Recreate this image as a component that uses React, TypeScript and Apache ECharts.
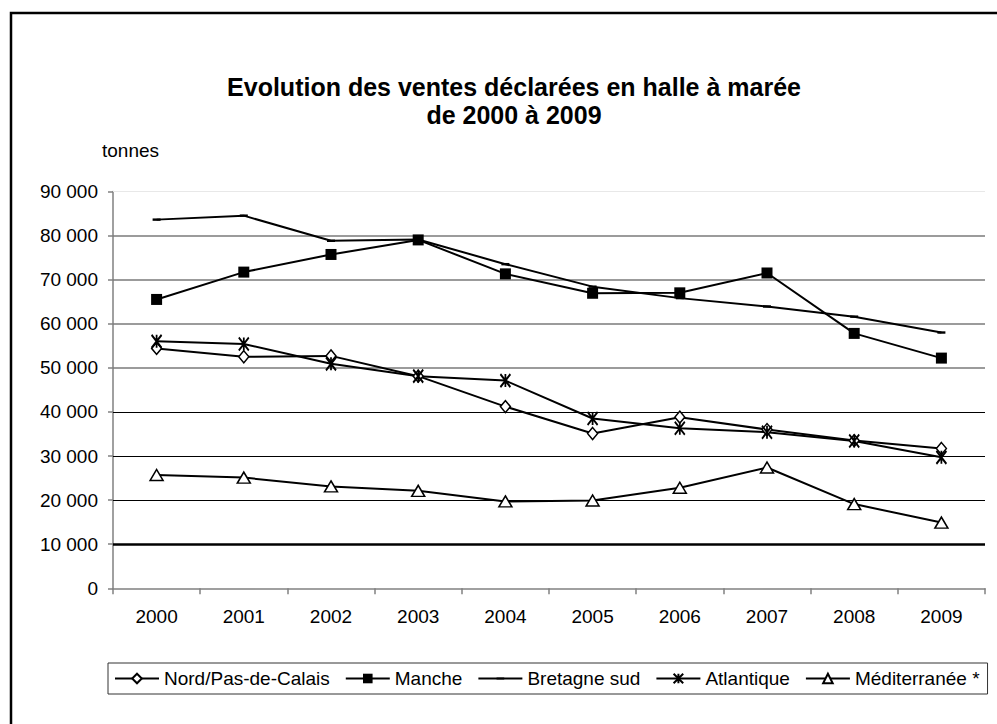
import React, { useEffect, useRef } from "react";
import * as echarts from "echarts";

const years = ["2000", "2001", "2002", "2003", "2004", "2005", "2006", "2007", "2008", "2009"];

const nordPasDeCalais = [54400, 52500, 52700, 48100, 41200, 35100, 38800, 36000, 33500, 31700];
const manche = [65500, 71700, 75700, 79000, 71300, 66900, 67000, 71500, 57800, 52200];
const bretagneSud = [83600, 84500, 78800, 79100, 73500, 68400, 65800, 63900, 61600, 58000];
const atlantique = [56000, 55400, 50900, 48100, 47100, 38500, 36300, 35400, 33400, 29700];
const mediterranee = [25700, 25100, 23100, 22100, 19700, 19900, 22800, 27400, 19100, 14900];

const yTicks = [0, 10000, 20000, 30000, 40000, 50000, 60000, 70000, 80000, 90000];

const FONT = 'Arial, "Liberation Sans", Helvetica, sans-serif';
const ASTERISK = "path://M0,0L10,12M10,0L0,12M5,0L5,12";
// short flat dash inside a square frame, so it keeps its shape when drawn square
const DASH = "path://M0,0M10,10M1,4L9,4L9,6L1,6Z";

function formatThousands(v: number): string {
  return String(v).replace(/\B(?=(\d{3})+(?!\d))/g, " ");
}

// horizontal reference lines: light at the top, grey in the upper band,
// black in the lower band and a heavier rule at 10 000
function gridLineStyle(v: number) {
  if (v === 90000) return { color: "#e8e8e8", width: 1, type: "solid" as const };
  if (v >= 50000) return { color: "#7a7a7a", width: 1.5, type: "solid" as const };
  if (v === 10000) return { color: "#000", width: 2.5, type: "solid" as const };
  return { color: "#000", width: 1, type: "solid" as const };
}

export default function App() {
  const ref = useRef<HTMLDivElement>(null);

  useEffect(() => {
    document.body.style.margin = "0";
    if (!ref.current) return;
    const chart = echarts.init(ref.current, null, { renderer: "svg" });

    const lineStyle = { color: "#000", width: 2 };
    const common = {
      type: "line" as const,
      lineStyle,
      emphasis: { disabled: true },
      silent: true,
      z: 3,
    };

    chart.setOption({
      animation: false,
      backgroundColor: "#fff",
      textStyle: { fontFamily: FONT, color: "#000" },
      grid: { left: 113, right: 12, top: 191.4, bottom: 135.7, containLabel: false },
      graphic: [
        {
          type: "rect",
          shape: { x: 11, y: 13, width: 1200, height: 1000 },
          style: { fill: "none", stroke: "#000", lineWidth: 2.5 },
          silent: true,
        },
        {
          type: "text",
          x: 514,
          y: 101,
          style: {
            text: "Evolution des ventes déclarées en halle à marée\nde 2000 à 2009",
            font: `bold 25px ${FONT}`,
            fill: "#000",
            align: "center",
            verticalAlign: "middle",
            lineHeight: 28,
          },
        },
        {
          type: "text",
          x: 102,
          y: 141,
          style: {
            text: "tonnes",
            font: `19px ${FONT}`,
            fill: "#000",
            align: "left",
            verticalAlign: "top",
          },
        },
      ],
      legend: {
        left: 108,
        top: 663,
        padding: [6, 8, 6, 6],
        itemGap: 15,
        itemWidth: 44,
        itemHeight: 12,
        borderColor: "#333",
        borderWidth: 1,
        borderRadius: 0,
        textStyle: { fontFamily: FONT, fontSize: 19, color: "#000" },
        data: ["Nord/Pas-de-Calais", "Manche", "Bretagne sud", "Atlantique", "Méditerranée *"],
        selectedMode: false,
      },
      xAxis: {
        type: "category",
        data: years,
        boundaryGap: true,
        axisLine: { lineStyle: { color: "#808080", width: 1.5 } },
        axisTick: { show: true, length: 6, lineStyle: { color: "#808080", width: 1.5 } },
        axisLabel: { color: "#000", fontSize: 19, fontFamily: FONT, margin: 19 },
        splitLine: { show: false },
      },
      yAxis: {
        type: "value",
        min: 0,
        max: 90000,
        interval: 10000,
        axisLine: { show: true, lineStyle: { color: "#808080", width: 1.5 } },
        axisTick: { show: true, length: 5, lineStyle: { color: "#808080", width: 1.5 } },
        axisLabel: {
          color: "#000",
          fontSize: 19,
          fontFamily: FONT,
          margin: 15,
          formatter: (v: number) => formatThousands(v),
        },
        splitLine: { show: false },
      },
      series: [
        {
          ...common,
          name: "Nord/Pas-de-Calais",
          data: nordPasDeCalais,
          symbol: "diamond",
          symbolSize: [10, 12],
          itemStyle: { color: "#fff", borderColor: "#000", borderWidth: 1.5 },
          markLine: {
            silent: true,
            z: 1,
            symbol: ["none", "none"],
            label: { show: false },
            emphasis: { disabled: true },
            data: yTicks
              .filter((v) => v > 0)
              .map((v) => ({ yAxis: v, lineStyle: gridLineStyle(v) })),
          },
        },
        {
          ...common,
          name: "Manche",
          data: manche,
          symbol: "rect",
          symbolSize: 11,
          itemStyle: { color: "#000", borderColor: "#000", borderWidth: 0 },
        },
        {
          ...common,
          name: "Bretagne sud",
          data: bretagneSud,
          symbol: DASH,
          symbolSize: [10, 12],
          symbolKeepAspect: false,
          itemStyle: { color: "#000", borderColor: "#000", borderWidth: 0 },
        },
        {
          ...common,
          name: "Atlantique",
          data: atlantique,
          symbol: ASTERISK,
          symbolSize: [10, 13],
          symbolKeepAspect: false,
          itemStyle: { color: "#000", borderColor: "#000", borderWidth: 2 },
        },
        {
          ...common,
          name: "Méditerranée *",
          data: mediterranee,
          symbol: "triangle",
          symbolSize: [13, 11],
          itemStyle: { color: "#fff", borderColor: "#000", borderWidth: 1.5 },
        },
      ],
    });

    return () => chart.dispose();
  }, []);

  return <div ref={ref} style={{ width: 997, height: 724 }} />;
}
